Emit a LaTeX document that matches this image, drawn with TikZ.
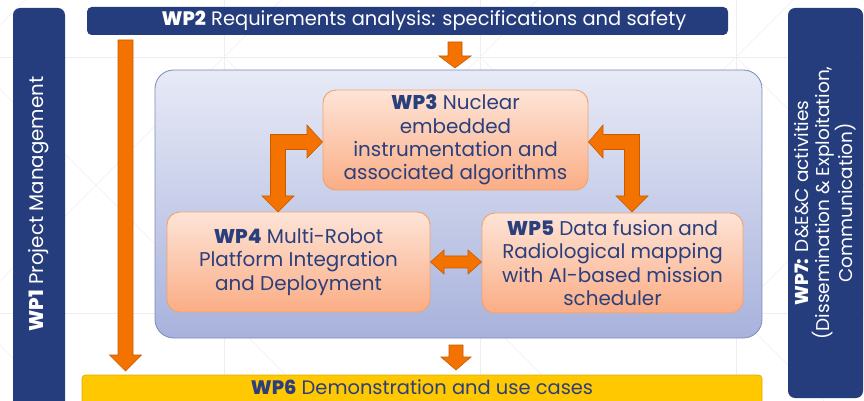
\documentclass[tikz,border=0pt]{standalone}
\usepackage{fontspec}
\IfFontExistsTF{Poppins ExtraBold}
  {\setmainfont{Poppins}[BoldFont={Poppins ExtraBold}]}
  {\setmainfont{Poppins}}
\usetikzlibrary{calc}

\definecolor{navy}{HTML}{253D7C}
\definecolor{boxtext}{HTML}{2B3F7C}
\definecolor{arrowfill}{HTML}{F47200}
\definecolor{arrowline}{HTML}{C65A00}
\definecolor{wpborder}{HTML}{F3A26C}
\definecolor{wptop}{HTML}{FDE4D7}
\definecolor{wpbottom}{HTML}{FBAD85}
\definecolor{coretop}{HTML}{E7EAF6}
\definecolor{corebottom}{HTML}{A8B2DC}
\definecolor{coreline}{HTML}{7B8BBA}
\definecolor{demofill}{HTML}{FFC800}
\definecolor{demoline}{HTML}{DDAE00}
\definecolor{gridline}{HTML}{EEEEEE}

\tikzset{
  wpbox/.style={draw=wpborder, line width=0.8pt, rounded corners=11pt,
    top color=wptop, bottom color=wpbottom, text=boxtext,
    align=center, font=\fontsize{17}{20}\selectfont, inner sep=0pt},
  fatarrow/.style={fill=arrowfill, draw=arrowline, line width=0.5pt, line join=miter},
  bartext/.style={font=\fontsize{16.6}{18}\selectfont}
}

\begin{document}
\begin{tikzpicture}[x=0.03cm, y=-0.03cm]
\useasboundingbox (0,0) rectangle (864,401);

% faint background lattice of squares with diagonals
\begin{scope}
  \clip (0,0) rectangle (864,401);
  \foreach \gx in {-32,224,480,736} {
    \draw[gridline, line width=0.5pt] (\gx,-10) -- (\gx,410);
    \draw[gridline, line width=0.5pt] (\gx,57) -- ++(256,256);
    \draw[gridline, line width=0.5pt] (\gx,313) -- ++(256,-256);
    \draw[gridline, line width=0.5pt] (\gx,57) -- ++(256,-256);
    \draw[gridline, line width=0.5pt] (\gx,313) -- ++(256,256);
  }
  \draw[gridline, line width=0.5pt] (0,57) -- (864,57);
  \draw[gridline, line width=0.5pt] (0,313) -- (864,313);
\end{scope}

% side bars: management and dissemination
\fill[navy, rounded corners=6pt] (13,8) rectangle (65,410);
\node[rotate=90, text=white, font=\fontsize{16.9}{18}\selectfont] (wp1) at (39,204)
  {\textbf{WP1} Project Management};
\fill[navy, rounded corners=6pt] (788,8) rectangle (863,398);
\node[rotate=90, text=white, font=\fontsize{15.8}{17.5}\selectfont, align=center] (wp7) at (825.5,203)
  {\textbf{WP7:} D\&E\&C activities\\(Dissemination \& Exploitation,\\Communication)};

% requirements bar
\fill[navy, rounded corners=4pt] (87,7) rectangle (728,35);
\node[text=white, bartext] (wp2) at (424,21) {\textbf{WP2} Requirements analysis: specifications and safety};

% demonstration bar
\draw[fill=demofill, draw=demoline, line width=0.6pt, rounded corners=3pt] (82,375) rectangle (762,410);
\node[text=boxtext, bartext] (wp6) at (422,387.5) {\textbf{WP6} Demonstration and use cases};

% core technical work packages
\draw[draw=coreline, line width=0.7pt, rounded corners=16pt, top color=coretop, bottom color=corebottom]
  (155,70) rectangle (762,338);

\node[wpbox, minimum width=265*0.03cm, minimum height=100*0.03cm] (wp3) at (455.5,140)
  {\textbf{WP3} Nuclear\\embedded\\instrumentation and\\associated algorithms};
\node[wpbox, minimum width=263*0.03cm, minimum height=100*0.03cm] (wp4) at (298.5,262)
  {\textbf{WP4} Multi-Robot\\Platform Integration\\and Deployment};
\node[wpbox, minimum width=261*0.03cm, minimum height=100*0.03cm] (wp5) at (612.5,263)
  {\textbf{WP5} Data fusion and\\Radiological mapping\\with AI-based mission\\scheduler};

% WP2 -> core
\coordinate (a1) at (455,42);
\draw[fatarrow] ($(a1)+(-7,0)$) -- ($(a1)+(7,0)$) -- ($(a1)+(7,14)$) -- ($(a1)+(16,14)$)
  -- ($(a1)+(0,26)$) -- ($(a1)+(-16,14)$) -- ($(a1)+(-7,14)$) -- cycle;

% core -> WP6
\coordinate (a2) at (456,345);
\draw[fatarrow] ($(a2)+(-7,0)$) -- ($(a2)+(7,0)$) -- ($(a2)+(7,12)$) -- ($(a2)+(15,12)$)
  -- ($(a2)+(0,25)$) -- ($(a2)+(-15,12)$) -- ($(a2)+(-7,12)$) -- cycle;

% WP2 -> WP6 along the left side
\coordinate (a3) at (125.5,40);
\draw[fatarrow] ($(a3)+(-7.5,0)$) -- ($(a3)+(7.5,0)$) -- ($(a3)+(7.5,315)$) -- ($(a3)+(16,315)$)
  -- ($(a3)+(0,331)$) -- ($(a3)+(-16,315)$) -- ($(a3)+(-7.5,315)$) -- cycle;

% WP3 <-> WP4
\draw[fatarrow] (wp3.west |- 0,142) -- (307,125) -- (307,134.5) -- (270.5,134.5) -- (270.5,196)
  -- (262,196) -- (278,212) -- (294,196) -- (285.5,196) -- (285.5,149.5) -- (307,149.5)
  -- (307,158) -- cycle;

% WP3 <-> WP5
\draw[fatarrow] (wp3.east |- 0,142) -- (603,125) -- (603,134.5) -- (639.5,134.5) -- (639.5,196)
  -- (648,196) -- (632,212) -- (616,196) -- (624.5,196) -- (624.5,149.5) -- (603,149.5)
  -- (603,158) -- cycle;

% WP4 <-> WP5
\draw[fatarrow] (wp4.east |- 0,262) -- (444,250) -- (444,256) -- (468,256) -- (468,250)
  -- (wp5.west |- 0,262) -- (468,274) -- (468,268) -- (444,268) -- (444,274) -- cycle;
\end{tikzpicture}
\end{document}
